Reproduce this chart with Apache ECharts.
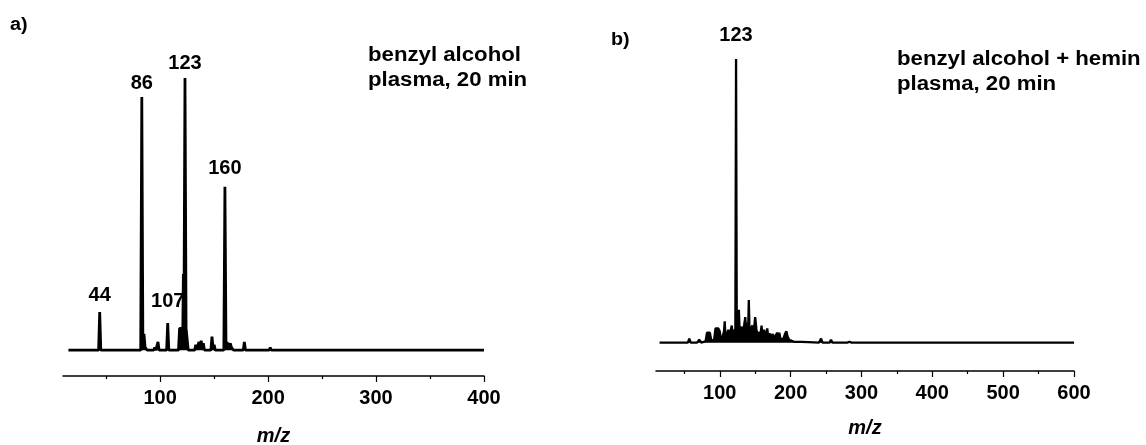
<!DOCTYPE html>
<html lang="en">
<head>
<meta charset="UTF-8">
<title>mass spectra</title>
<script src="https://cdn.jsdelivr.net/npm/echarts@6/dist/echarts.min.js"></script>
<style>
html, body { margin:0; padding:0; background:#fff; }
#main { width:1146px; height:445px; }
</style>
</head>
<body>
<div id="main"></div>
<script>
// a) benzyl alcohol, plasma 20 min  (m/z, relative intensity, 123 = 100)
var mzA  = [15, 43, 44, 45, 67, 68, 69, 82, 83, 84, 85, 86, 87, 88, 94, 95, 96, 97, 98, 99,
            106, 107, 108, 117, 118, 121, 121.5, 122, 123, 124, 125, 126, 132, 133, 134, 136, 137, 138, 139, 140, 141,
            147, 148, 149, 150, 151, 159, 160, 161, 162, 163, 165, 166, 167, 168, 177, 178, 179, 201, 202, 203, 400];
var intA = [0, 0, 14, 0, 0, 0.6, 0, 0, 93, 1, 6, 1, 1.5, 0, 0, 1, 0, 0.5, 3, 0,
            0, 10, 0, 0, 8, 8, 28, 8, 100, 8, 8, 0, 0, 2, 0.5, 3, 1, 3.5, 1, 2.5, 0,
            0, 5, 1, 2, 0, 0, 60, 1, 3, 1, 2.5, 1, 1.5, 0, 0, 3, 0, 0, 1, 0, 0];

// b) benzyl alcohol + hemin, plasma 20 min
var mzB  = [15, 50, 55, 57, 59, 68, 71, 74, 80, 82, 84, 86, 88, 92, 94, 96, 98, 100, 102, 104, 106, 107, 108,
            110, 112, 114, 116, 117, 118, 120, 121, 122, 123, 124, 125, 127, 128, 130, 131, 133, 135, 136, 137,
            139, 140, 141, 142, 144, 146, 148, 150, 152, 154, 156, 158, 159, 160, 162, 164, 166, 167, 168, 170,
            171, 173, 175, 177, 179, 181, 183, 184, 186, 190, 192, 194, 196, 198, 200, 205, 215, 225, 240, 243,
            245, 255, 257, 259, 280, 283, 286, 600];
var intB = [0, 0, 0, 1.4, 0, 0, 1, 0, 0.5, 3.5, 3, 3.5, 0.8, 1, 5, 4.5, 5, 4, 0.5, 2, 4, 7.5, 2,
            3, 4.5, 2.5, 5, 6, 3, 3, 4.5, 3, 100, 4, 3, 11.6, 4, 3.5, 5.6, 4, 7, 9, 5,
            7, 4, 15, 4, 5, 6, 4, 9, 4, 4.5, 3, 4, 6, 3, 4.5, 3, 4, 5, 3, 2.5,
            3, 2, 3, 1.5, 2, 3.5, 2, 3.5, 1, 1.5, 3, 4, 2, 1, 0.5, 0.3, 0.3, 0.2, 0, 1.4,
            0, 0, 1, 0, 0, 0.3, 0, 0];

// axis ticks
var majorA = [100, 200, 300, 400];
var minorA = [50, 150, 250, 350];
var majorB = [100, 200, 300, 400, 500, 600];
var minorB = [50, 150, 250, 350, 450, 550];

// labelled peaks
var peakMzA   = [44, 83, 107, 123, 160];
var peakTextA = ['44', '86', '107', '123', '160'];
var peakMzB   = [123];
var peakTextB = ['123'];

var FONT = 'Liberation Sans';

function pairs(mz, val) {
    return mz.map(function (m, i) { return [m, val[i]]; });
}
function marks(mzList, textList, mz, val, gaps) {
    return mzList.map(function (m, i) {
        return {
            coord: [m, val[mz.indexOf(m)]],
            value: textList[i],
            label: {distance: gaps[i]}
        };
    });
}

function xAxes(gridIndex, max, major, minor, nameGap) {
    return [{
        gridIndex: gridIndex,
        type: 'value',
        position: 'bottom',
        min: 10,
        max: max,
        splitLine: {show: false},
        axisLine: {onZero: false, lineStyle: {color: '#000', width: 1.5}},
        axisTick: {customValues: major, length: 6, lineStyle: {color: '#000', width: 1.2}},
        axisLabel: {
            customValues: major, margin: 12,
            color: '#000', fontFamily: FONT, fontWeight: 'bold', fontSize: 20
        },
        name: 'm/z',
        nameLocation: 'middle',
        nameGap: nameGap,
        nameTextStyle: {color: '#000', fontFamily: FONT, fontWeight: 'bold', fontStyle: 'italic', fontSize: 20}
    }, {
        gridIndex: gridIndex,
        type: 'value',
        position: 'bottom',
        min: 10,
        max: max,
        splitLine: {show: false},
        axisLine: {show: false, onZero: false},
        axisTick: {customValues: minor, length: 3, lineStyle: {color: '#000', width: 1.2}},
        axisLabel: {show: false}
    }];
}

function spectrum(xi, yi, data, width, markData) {
    return {
        type: 'line',
        xAxisIndex: xi,
        yAxisIndex: yi,
        data: data,
        showSymbol: false,
        lineStyle: {color: '#000', width: width},
        areaStyle: {color: '#000', opacity: 1},
        markPoint: {
            symbol: 'circle',
            symbolSize: 0,
            label: {
                show: true, position: 'top', formatter: '{c}',
                color: '#000', fontFamily: FONT, fontWeight: 'bold', fontSize: 20
            },
            data: markData
        }
    };
}

var chart = echarts.init(document.getElementById('main'));
chart.setOption({
    animation: false,
    backgroundColor: '#fff',
    grid: [
        {left: 63, right: 662, top: 78, bottom: 69, outerBoundsMode: 'none'},
        {left: 656, right: 72, top: 59, bottom: 74, outerBoundsMode: 'none'}
    ],
    xAxis: xAxes(0, 400, majorA, minorA, 50).concat(xAxes(1, 600, majorB, minorB, 47)),
    yAxis: [
        {gridIndex: 0, type: 'value', min: -9.5, max: 100, show: false},
        {gridIndex: 1, type: 'value', min: -10, max: 100, show: false}
    ],
    series: [
        spectrum(0, 0, pairs(mzA, intA), 2.8, marks(peakMzA, peakTextA, mzA, intA, [7, 4, 11, 5, 8])),
        spectrum(2, 1, pairs(mzB, intB), 2.3, marks(peakMzB, peakTextB, mzB, intB, [14]))
    ],
    graphic: [
        {type: 'text', left: 10, top: 16, scaleX: 1.1, style: {text: 'a)', fill: '#000', font: 'bold 18px "Liberation Sans"'}},
        {type: 'text', left: 611, top: 31, scaleX: 1.1, style: {text: 'b)', fill: '#000', font: 'bold 18px "Liberation Sans"'}},
        {type: 'text', left: 368, top: 43, scaleX: 1.11, style: {
            text: 'benzyl alcohol\nplasma, 20 min', fill: '#000', lineHeight: 25,
            font: 'bold 20px "Liberation Sans"'}},
        {type: 'text', left: 897, top: 47, scaleX: 1.11, style: {
            text: 'benzyl alcohol + hemin\nplasma, 20 min', fill: '#000', lineHeight: 25,
            font: 'bold 20px "Liberation Sans"'}}
    ]
});
</script>
</body>
</html>
